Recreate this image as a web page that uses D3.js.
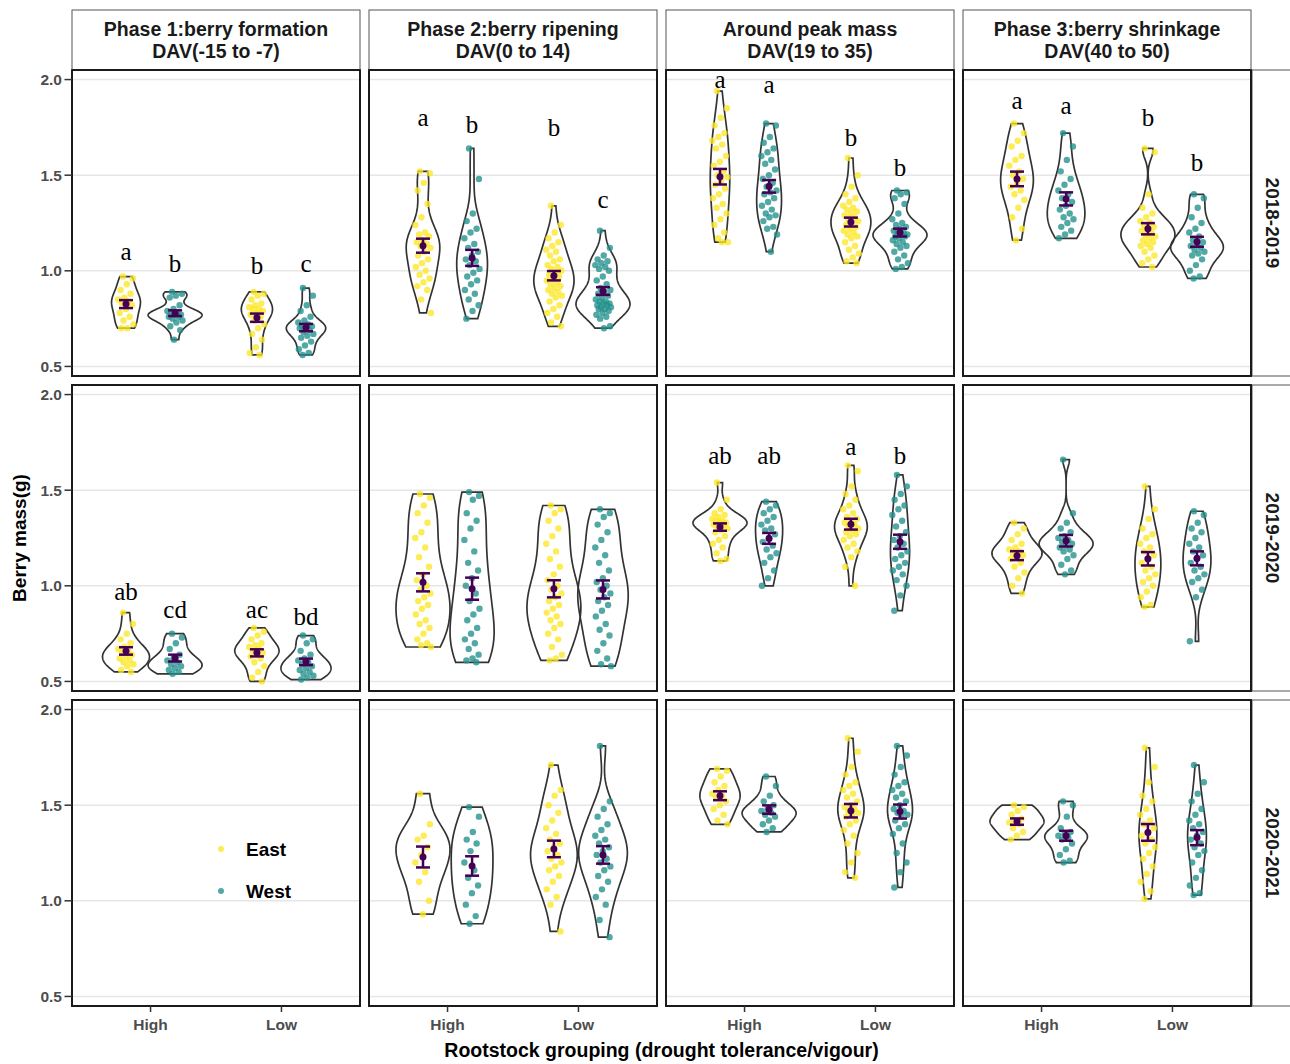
<!DOCTYPE html>
<html><head><meta charset="utf-8">
<script src="https://cdn.jsdelivr.net/npm/d3@7"></script>
<style>body{margin:0;background:#fff}svg{display:block}</style>
</head><body>
<svg id="chart" width="1290" height="1064"></svg>
<script>
// ---------------- data ----------------
const phaseTitles = ["Phase 1:berry formation","Phase 2:berry ripening","Around peak mass","Phase 3:berry shrinkage"];
const phaseDAV = ["DAV(-15 to -7)","DAV(0 to 14)","DAV(19 to 35)","DAV(40 to 50)"];
const seasons = ["2018-2019","2019-2020","2020-2021"];
const groups = ["High","Low"];
const sides = ["East","West"];
const yTicks = [0.5,1.0,1.5,2.0];
const yTickLabels = ["0.5","1.0","1.5","2.0"];

// Berry mass (g) per vine, per rootstock group (High/Low) and vineyard side (East/West)
const mass_1819_P1 = {
  HighEast:[0.97,0.96,0.93,0.90,0.88,0.86,0.85,0.84,0.83,0.82,0.80,0.78,0.76,0.74,0.72,0.70,0.70],
  HighWest:[0.89,0.88,0.87,0.86,0.82,0.80,0.79,0.78,0.78,0.77,0.77,0.76,0.76,0.75,0.74,0.73,0.71,0.69,0.64],
  LowEast:[0.89,0.88,0.87,0.85,0.83,0.82,0.81,0.80,0.80,0.79,0.78,0.77,0.76,0.74,0.72,0.70,0.67,0.64,0.60,0.57,0.56],
  LowWest:[0.91,0.87,0.82,0.79,0.76,0.74,0.73,0.72,0.71,0.71,0.70,0.70,0.69,0.68,0.67,0.66,0.65,0.63,0.61,0.59,0.57,0.56]};
const mass_1819_P2 = {
  HighEast:[1.52,1.51,1.46,1.42,1.35,1.28,1.24,1.20,1.19,1.18,1.16,1.15,1.14,1.13,1.12,1.10,1.08,1.06,1.04,1.02,1.00,0.98,0.96,0.94,0.92,0.90,0.85,0.78],
  HighWest:[1.64,1.48,1.30,1.26,1.22,1.20,1.17,1.14,1.12,1.10,1.08,1.06,1.05,1.03,1.01,0.99,0.97,0.95,0.93,0.90,0.88,0.85,0.82,0.79,0.75],
  LowEast:[1.34,1.24,1.20,1.17,1.15,1.13,1.11,1.10,1.08,1.06,1.05,1.03,1.02,1.01,1.00,0.99,0.98,0.97,0.96,0.95,0.94,0.93,0.92,0.91,0.90,0.89,0.88,0.87,0.86,0.84,0.82,0.80,0.78,0.76,0.73,0.71],
  LowWest:[1.21,1.12,1.08,1.06,1.05,1.04,1.03,1.02,1.01,1.00,0.97,0.95,0.93,0.91,0.90,0.89,0.88,0.87,0.86,0.85,0.84,0.84,0.83,0.83,0.82,0.82,0.81,0.81,0.80,0.80,0.79,0.78,0.77,0.76,0.75,0.71,0.70]};
const mass_1819_P3 = {
  HighEast:[1.94,1.85,1.80,1.76,1.72,1.70,1.68,1.66,1.64,1.60,1.57,1.55,1.52,1.50,1.49,1.47,1.45,1.43,1.40,1.38,1.35,1.33,1.30,1.27,1.24,1.20,1.17,1.15,1.15],
  HighWest:[1.77,1.76,1.70,1.67,1.64,1.62,1.60,1.58,1.56,1.53,1.50,1.48,1.46,1.44,1.42,1.41,1.40,1.38,1.36,1.34,1.32,1.30,1.29,1.28,1.26,1.23,1.22,1.19,1.10],
  LowEast:[1.59,1.50,1.44,1.40,1.38,1.36,1.34,1.33,1.32,1.31,1.30,1.29,1.28,1.27,1.26,1.25,1.24,1.23,1.22,1.21,1.20,1.19,1.18,1.17,1.15,1.13,1.11,1.09,1.07,1.05,1.04],
  LowWest:[1.42,1.41,1.40,1.38,1.35,1.30,1.27,1.25,1.24,1.23,1.22,1.21,1.20,1.20,1.19,1.19,1.18,1.18,1.17,1.16,1.15,1.14,1.13,1.12,1.10,1.08,1.06,1.04,1.02,1.01]};
const mass_1819_P4 = {
  HighEast:[1.77,1.72,1.68,1.65,1.60,1.58,1.55,1.52,1.50,1.48,1.46,1.44,1.42,1.40,1.37,1.33,1.28,1.22,1.16],
  HighWest:[1.72,1.65,1.58,1.52,1.48,1.45,1.42,1.40,1.38,1.36,1.34,1.32,1.30,1.28,1.27,1.25,1.23,1.21,1.19,1.17],
  LowEast:[1.64,1.62,1.40,1.33,1.30,1.28,1.26,1.25,1.24,1.23,1.22,1.21,1.20,1.19,1.18,1.17,1.16,1.15,1.14,1.13,1.12,1.10,1.08,1.06,1.04,1.02],
  LowWest:[1.40,1.38,1.33,1.28,1.25,1.22,1.20,1.18,1.16,1.15,1.14,1.13,1.12,1.11,1.10,1.09,1.08,1.06,1.03,1.00,0.97,0.96]};
const mass_1920_P1 = {
  HighEast:[0.86,0.80,0.75,0.72,0.70,0.68,0.67,0.66,0.65,0.64,0.63,0.62,0.61,0.60,0.59,0.58,0.56,0.55],
  HighWest:[0.75,0.73,0.70,0.67,0.64,0.62,0.61,0.60,0.59,0.58,0.57,0.56,0.55,0.54],
  LowEast:[0.78,0.76,0.74,0.72,0.70,0.69,0.68,0.67,0.66,0.65,0.64,0.63,0.62,0.60,0.58,0.55,0.52,0.50],
  LowWest:[0.74,0.72,0.70,0.66,0.64,0.62,0.61,0.60,0.59,0.58,0.57,0.56,0.55,0.54,0.53,0.52,0.51]};
const mass_1920_P2 = {
  HighEast:[1.48,1.46,1.42,1.38,1.33,1.28,1.25,1.20,1.15,1.10,1.06,1.03,1.00,0.98,0.96,0.94,0.92,0.90,0.88,0.85,0.82,0.80,0.78,0.75,0.72,0.70,0.69,0.68],
  HighWest:[1.49,1.47,1.45,1.38,1.34,1.30,1.24,1.18,1.12,1.08,1.04,1.00,0.96,0.92,0.88,0.85,0.82,0.78,0.75,0.72,0.70,0.67,0.64,0.62,0.61,0.60],
  LowEast:[1.42,1.40,1.38,1.34,1.30,1.26,1.22,1.18,1.14,1.10,1.06,1.03,1.00,0.98,0.96,0.94,0.92,0.90,0.88,0.86,0.84,0.82,0.80,0.78,0.75,0.72,0.68,0.64,0.62,0.61],
  LowWest:[1.40,1.38,1.36,1.32,1.28,1.24,1.20,1.16,1.12,1.08,1.04,1.02,1.00,0.98,0.96,0.94,0.92,0.90,0.87,0.84,0.80,0.77,0.74,0.70,0.66,0.62,0.59,0.58]};
const mass_1920_P3 = {
  HighEast:[1.54,1.45,1.40,1.38,1.37,1.36,1.35,1.34,1.34,1.33,1.33,1.32,1.32,1.31,1.30,1.29,1.28,1.26,1.24,1.22,1.20,1.17,1.14,1.13],
  HighWest:[1.44,1.42,1.40,1.38,1.36,1.34,1.32,1.30,1.29,1.27,1.25,1.23,1.21,1.19,1.17,1.15,1.12,1.08,1.04,1.00],
  LowEast:[1.63,1.60,1.52,1.48,1.45,1.42,1.40,1.38,1.36,1.35,1.34,1.33,1.32,1.31,1.30,1.29,1.28,1.27,1.26,1.24,1.22,1.20,1.18,1.15,1.10,1.00],
  LowWest:[1.58,1.52,1.48,1.45,1.42,1.40,1.37,1.34,1.31,1.28,1.26,1.24,1.22,1.20,1.18,1.16,1.14,1.12,1.10,1.08,1.06,1.03,1.00,0.95,0.87]};
const mass_1920_P4 = {
  HighEast:[1.33,1.30,1.27,1.24,1.22,1.20,1.19,1.18,1.17,1.16,1.15,1.14,1.12,1.10,1.07,1.04,1.00,0.96],
  HighWest:[1.66,1.38,1.33,1.30,1.28,1.26,1.25,1.24,1.23,1.22,1.21,1.20,1.19,1.18,1.16,1.14,1.11,1.08,1.06],
  LowEast:[1.52,1.40,1.35,1.30,1.27,1.25,1.22,1.20,1.18,1.16,1.14,1.12,1.10,1.08,1.06,1.04,1.02,1.00,0.97,0.94,0.90,0.89],
  LowWest:[1.39,1.37,1.33,1.30,1.28,1.25,1.22,1.20,1.18,1.16,1.14,1.12,1.10,1.08,1.06,1.04,1.02,0.98,0.94,0.71]};
const mass_2021_P2 = {
  HighEast:[1.56,1.40,1.34,1.32,1.28,1.24,1.20,1.15,1.10,1.00,0.93],
  HighWest:[1.49,1.44,1.36,1.32,1.30,1.26,1.20,1.16,1.12,1.08,1.04,0.98,0.92,0.88],
  LowEast:[1.71,1.58,1.55,1.50,1.46,1.42,1.38,1.35,1.32,1.30,1.28,1.26,1.24,1.22,1.20,1.18,1.16,1.13,1.10,1.06,1.02,0.98,0.84],
  LowWest:[1.81,1.52,1.48,1.44,1.40,1.37,1.34,1.32,1.30,1.28,1.26,1.24,1.22,1.20,1.18,1.16,1.13,1.10,1.06,1.02,0.98,0.90,0.81]};
const mass_2021_P3 = {
  HighEast:[1.69,1.68,1.65,1.62,1.60,1.58,1.56,1.55,1.54,1.52,1.50,1.48,1.45,1.42,1.40],
  HighWest:[1.65,1.60,1.55,1.52,1.50,1.48,1.47,1.46,1.45,1.44,1.42,1.40,1.38,1.36],
  LowEast:[1.85,1.78,1.70,1.66,1.62,1.60,1.58,1.56,1.54,1.52,1.50,1.49,1.48,1.47,1.46,1.45,1.44,1.42,1.40,1.37,1.34,1.30,1.25,1.20,1.15,1.12],
  LowWest:[1.81,1.76,1.70,1.66,1.62,1.60,1.58,1.56,1.54,1.52,1.50,1.48,1.47,1.46,1.45,1.44,1.42,1.40,1.38,1.35,1.30,1.25,1.20,1.15,1.07]};
const mass_2021_P4 = {
  HighEast:[1.50,1.49,1.47,1.45,1.43,1.42,1.41,1.40,1.38,1.36,1.34,1.32],
  HighWest:[1.52,1.50,1.44,1.38,1.36,1.35,1.34,1.33,1.32,1.30,1.27,1.24,1.21,1.20],
  LowEast:[1.80,1.70,1.62,1.55,1.52,1.48,1.45,1.42,1.40,1.38,1.36,1.34,1.32,1.30,1.28,1.25,1.22,1.18,1.14,1.10,1.05,1.01],
  LowWest:[1.71,1.62,1.56,1.52,1.48,1.45,1.42,1.40,1.38,1.36,1.34,1.32,1.30,1.28,1.26,1.24,1.20,1.16,1.12,1.08,1.04,1.03]};

// significance letters (order: High-East, High-West, Low-East, Low-West) and their y value
const letters_1819 = [["a","b","b","c"],["a","b","b","c"],["a","a","b","b"],["a","a","b","b"]];
const letterY_1819 = [[1.059,0.996,0.981,0.996],[1.756,1.721,1.704,1.329],[1.956,1.930,1.651,1.495],[1.848,1.822,1.756,1.521]];
const letters_1920 = [["ab","cd","ac","bd"],null,["ab","ab","a","b"],null];
const letterY_1920 = [[0.928,0.833,0.833,0.794],null,[1.638,1.638,1.686,1.638],null];

const massGrid = [
  [mass_1819_P1, mass_1819_P2, mass_1819_P3, mass_1819_P4],
  [mass_1920_P1, mass_1920_P2, mass_1920_P3, mass_1920_P4],
  [null,         mass_2021_P2, mass_2021_P3, mass_2021_P4]];
const letterGrid = [letters_1819, letters_1920, [null,null,null,null]];
const letterYGrid = [letterY_1819, letterY_1920, [null,null,null,null]];

// ---------------- layout / style ----------------
const colX = [72,369,666,963], panelW = 288;
const rowY = [70,385,700], panelH = 306;
const sideColor = {East:"#FDE725", West:"#21908C"};
const meanColor = "#440154";
const sansFont = "'Liberation Sans', Arial, sans-serif";
const serifFont = "'Liberation Serif', 'Times New Roman', serif";
const maxViolinW = 54;

const svg = d3.select("#chart");
svg.append("rect").attr("width",1290).attr("height",1064).attr("fill","#fff");

function nrd0(v){
  const s = d3.sort(v);
  const sd = d3.deviation(s);
  const iqr = d3.quantile(s,0.75) - d3.quantile(s,0.25);
  let lo = Math.min(sd, iqr/1.34);
  if(!(lo>0)) lo = sd || Math.abs(s[0]) || 1;
  return 0.9*lo*Math.pow(s.length,-0.2);
}
function kde(v){
  const bw = nrd0(v), n = v.length;
  const lo = d3.min(v), hi = d3.max(v);
  const N = 120;
  return d3.range(N+1).map(i=>{
    const t = lo + (hi-lo)*i/N;
    let d = 0;
    for(const x of v){ const z=(t-x)/bw; d += Math.exp(-0.5*z*z); }
    return {v:t, d: d/(n*bw*Math.sqrt(2*Math.PI))};
  });
}

seasons.forEach((season, r)=>{
  const y = d3.scaleLinear().domain([0.45,2.05]).range([rowY[r]+panelH, rowY[r]]);
  phaseTitles.forEach((ph, c)=>{
    const x = d3.scalePoint().domain(groups).range([colX[c], colX[c]+panelW]).padding(0.6);
    const dodge = d3.scaleBand().domain(sides).range([-0.375*x.step(), 0.375*x.step()]);
    const g = svg.append("g");
    g.selectAll("line.grid").data(yTicks).join("line")
      .attr("x1",colX[c]).attr("x2",colX[c]+panelW)
      .attr("y1",d=>y(d)).attr("y2",d=>y(d))
      .attr("stroke","#e6e6e6").attr("stroke-width",1.4);

    const data = massGrid[r][c];
    if(data){
      const violins = [];
      groups.forEach(gr=>sides.forEach(sd=>{
        const vals = data[gr+sd];
        const dens = kde(vals);
        const mean = d3.mean(vals);
        const se = d3.deviation(vals)/Math.sqrt(vals.length);
        violins.push({gr, sd, vals, dens, mean, se, cx: x(gr)+dodge(sd)+dodge.bandwidth()/2});
      }));
      const maxD = d3.max(violins, v=>d3.max(v.dens, p=>p.d));
      const wScale = d3.scaleLinear().domain([0,maxD]).range([0,maxViolinW/2]);
      violins.forEach(v=>{
        const area = d3.area().y(p=>y(p.v)).x0(p=>v.cx - wScale(p.d)).x1(p=>v.cx + wScale(p.d));
        g.append("path").attr("d", area(v.dens)+"Z")
          .attr("fill","none").attr("stroke","#333").attr("stroke-width",1.7);
      });
      violins.forEach(v=>{
        g.selectAll(null).data(v.vals).join("circle")
          .attr("cx",(d,i)=>v.cx + (((i*0.618034+0.31)%1)-0.5)*16)
          .attr("cy",d=>y(d)).attr("r",3.2)
          .attr("fill",sideColor[v.sd]).attr("fill-opacity",0.78);
      });
      violins.forEach(v=>{
        const y1 = y(v.mean+v.se), y2 = y(v.mean-v.se);
        g.append("line").attr("x1",v.cx).attr("x2",v.cx).attr("y1",y1).attr("y2",y2)
          .attr("stroke",meanColor).attr("stroke-width",2.5);
        [y1,y2].forEach(yy=>g.append("line").attr("x1",v.cx-7).attr("x2",v.cx+7)
          .attr("y1",yy).attr("y2",yy).attr("stroke",meanColor).attr("stroke-width",2.5));
        g.append("circle").attr("cx",v.cx).attr("cy",y(v.mean)).attr("r",3.5).attr("fill",meanColor);
      });
      const lets = letterGrid[r][c];
      if(lets){
        violins.forEach((v,i)=>{
          g.append("text").attr("x",v.cx).attr("y",y(letterYGrid[r][c][i]))
            .attr("text-anchor","middle").attr("font-family",serifFont)
            .attr("font-size",25).attr("fill","#000").text(lets[i]);
        });
      }
    }
    g.append("rect").attr("x",colX[c]).attr("y",rowY[r]).attr("width",panelW).attr("height",panelH)
      .attr("fill","none").attr("stroke","#1a1a1a").attr("stroke-width",2);

    if(c===0){
      yTicks.forEach((t,i)=>{
        svg.append("line").attr("x1",64.5).attr("x2",colX[0]).attr("y1",y(t)).attr("y2",y(t))
          .attr("stroke","#333").attr("stroke-width",1.5);
        svg.append("text").attr("x",62).attr("y",y(t)).attr("dy","0.36em")
          .attr("text-anchor","end").attr("font-family",sansFont).attr("font-weight","bold")
          .attr("font-size",15.5).attr("fill","#4d4d4d").text(yTickLabels[i]);
      });
    }
    if(r===seasons.length-1){
      groups.forEach(gr=>{
        svg.append("line").attr("x1",x(gr)).attr("x2",x(gr)).attr("y1",rowY[r]+panelH).attr("y2",rowY[r]+panelH+6)
          .attr("stroke","#333").attr("stroke-width",1.5);
        svg.append("text").attr("x",x(gr)).attr("y",1030).attr("text-anchor","middle")
          .attr("font-family",sansFont).attr("font-weight","bold").attr("font-size",15.5)
          .attr("fill","#4d4d4d").text(gr);
      });
    }
  });
  svg.append("rect").attr("x",1252).attr("y",rowY[r]).attr("width",60).attr("height",panelH)
    .attr("fill","#fff").attr("stroke","#555").attr("stroke-width",1);
  svg.append("text").attr("transform",`translate(1266,${rowY[r]+panelH/2}) rotate(90)`)
    .attr("text-anchor","middle").attr("font-family",sansFont).attr("font-weight","bold")
    .attr("font-size",19).attr("fill","#1a1a1a").text(season);
});
phaseTitles.forEach((ph,c)=>{
  svg.append("rect").attr("x",colX[c]).attr("y",10).attr("width",panelW).attr("height",60)
    .attr("fill","#fff").attr("stroke","#555").attr("stroke-width",1);
  svg.append("text").attr("x",colX[c]+panelW/2).attr("y",36).attr("text-anchor","middle")
    .attr("font-family",sansFont).attr("font-weight","bold").attr("font-size",19.5).attr("fill","#1a1a1a").text(ph);
  svg.append("text").attr("x",colX[c]+panelW/2).attr("y",58).attr("text-anchor","middle")
    .attr("font-family",sansFont).attr("font-weight","bold").attr("font-size",19.5).attr("fill","#1a1a1a").text(phaseDAV[c]);
});
rowY.forEach(ry=>svg.append("line").attr("x1",colX[3]+panelW).attr("x2",colX[3]+panelW)
  .attr("y1",ry).attr("y2",ry+panelH).attr("stroke","#1a1a1a").attr("stroke-width",2));
colX.forEach(cx=>svg.append("line").attr("x1",cx).attr("x2",cx+panelW).attr("y1",rowY[0]).attr("y2",rowY[0])
  .attr("stroke","#1a1a1a").attr("stroke-width",2));

// legend
const legend = svg.append("g");
sides.forEach((s,i)=>{
  legend.append("circle").attr("cx",221).attr("cy",849+i*42).attr("r",3)
    .attr("fill",sideColor[s]).attr("fill-opacity",0.78);
  legend.append("text").attr("x",246).attr("y",849+i*42).attr("dy","0.36em")
    .attr("font-family",sansFont).attr("font-weight","bold").attr("font-size",19).attr("fill","#000").text(s);
});

// axis titles
svg.append("text").attr("x",(colX[0]+colX[3]+panelW)/2).attr("y",1057).attr("text-anchor","middle")
  .attr("font-family",sansFont).attr("font-weight","bold").attr("font-size",19.5).attr("fill","#000")
  .text("Rootstock grouping (drought tolerance/vigour)");
svg.append("text").attr("transform","translate(26,538) rotate(-90)").attr("text-anchor","middle")
  .attr("font-family",sansFont).attr("font-weight","bold").attr("font-size",19).attr("fill","#000")
  .text("Berry mass(g)");
</script>
</body></html>
